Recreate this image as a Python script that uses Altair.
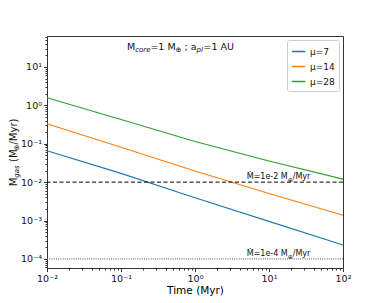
import altair as alt
import pandas as pd

times = [0.01, 0.1, 1, 10, 100]
mu7 = [0.0655, 0.0169, 0.00394, 0.00095, 0.00023]
mu14 = [0.33, 0.081, 0.0195, 0.00507, 0.00138]
mu28 = [1.58, 0.43, 0.114, 0.0354, 0.012]
series_names = ["μ=7", "μ=14", "μ=28"]
series_colors = ["#1f77b4", "#ff7f0e", "#2ca02c"]
ref_levels = [1e-2, 1e-4]
ref_main = ["Ṁ=1e-2 M", "Ṁ=1e-4 M"]
ref_sub = ["⊕", "⊕"]
ref_tail = ["/Myr", "/Myr"]

rows = []
for name, vals in zip(series_names, [mu7, mu14, mu28]):
    for t, v in zip(times, vals):
        rows.append({"t": t, "mdot": v, "series": name})
df = pd.DataFrame(rows)

x_ticks = []
for d in range(-2, 2):
    for m in range(1, 10):
        x_ticks.append(m * 10.0 ** d)
x_ticks.append(100.0)
y_ticks = []
for d in range(-5, 2):
    for m in range(1, 10):
        v = m * 10.0 ** d
        if 5.8e-5 <= v <= 64:
            y_ticks.append(v)

sup = "{'-5':'⁻⁵','-4':'⁻⁴','-3':'⁻³','-2':'⁻²','-1':'⁻¹','0':'⁰','1':'¹','2':'²'}"
major_test = "abs(log(datum.value)/LN10 - round(log(datum.value)/LN10)) < 1e-6"
lab_expr = major_test + " ? '10' + " + sup + "[toString(round(log(datum.value)/LN10))] : ''"

FONT = "DejaVu Sans"

xscale = alt.Scale(type="log", domain=[0.01, 100], nice=False)
yscale = alt.Scale(type="log", domain=[5.8e-5, 64], nice=False)

common_axis = dict(grid=False, labelFontSize=9.5, labelFont=FONT, titleFont=FONT,
                   titleFontWeight="normal", tickColor="#333", domainColor="#333",
                   labelColor="#111", labelPadding=2, labelFlush=False, labelOverlap=False,
                   labelExpr=lab_expr,
                   tickSize={"condition": {"test": major_test, "value": 3.5}, "value": 2})

lines = alt.Chart(df).mark_line(strokeWidth=1.1).encode(
    x=alt.X("t:Q", scale=xscale, axis=alt.Axis(
        title="Time (Myr)", values=x_ticks, titleFontSize=10.5, titlePadding=2, **common_axis)),
    y=alt.Y("mdot:Q", scale=yscale, axis=alt.Axis(title=None, values=y_ticks, **common_axis)),
    color=alt.Color("series:N", scale=alt.Scale(domain=series_names, range=series_colors),
                    legend=alt.Legend(title=None, orient="top-right", offset=4,
                                      symbolType="stroke", symbolStrokeWidth=1.5,
                                      symbolSize=180, labelFontSize=9, labelFont=FONT,
                                      fillColor="white", strokeColor="#ccc", padding=4,
                                      cornerRadius=2, rowPadding=2, labelColor="#111")),
    detail="series:N",
)

refdf = pd.DataFrame({"level": ref_levels, "main": ref_main, "sub": ref_sub, "tail": ref_tail,
                      "tx": [5.0, 5.0]})
rule1 = alt.Chart(refdf.iloc[[0]]).mark_rule(color="black", strokeDash=[4, 2.5], strokeWidth=1).encode(
    y=alt.Y("level:Q", scale=yscale))
rule2 = alt.Chart(refdf.iloc[[1]]).mark_rule(color="#777", strokeDash=[1, 1.2], strokeWidth=1.2).encode(
    y=alt.Y("level:Q", scale=yscale))
ref_enc = dict(x=alt.X("tx:Q", scale=xscale), y=alt.Y("level:Q", scale=yscale))
reftext1 = alt.Chart(refdf).mark_text(align="left", baseline="bottom", dy=-1, fontSize=8,
                                     font=FONT, color="#111").encode(text="main:N", **ref_enc)
reftext2 = alt.Chart(refdf).mark_text(align="left", baseline="bottom", dy=1, dx=41, fontSize=6,
                                     font=FONT, color="#111").encode(text="sub:N", **ref_enc)
reftext3 = alt.Chart(refdf).mark_text(align="left", baseline="bottom", dy=-1, dx=46, fontSize=8,
                                     font=FONT, color="#111").encode(text="tail:N", **ref_enc)

# in-plot title, with subscripts
title_txt = ["M", "core", "=1 M", "⊕", "; a", "pl", "=1 AU"]
title_x = [80, 88.2, 103.4, 128.6, 137.5, 149.6, 156.5]
title_sub = [False, True, False, True, False, True, False]
title_ital = [False, True, False, False, False, True, False]
title_layers = []
for t, px, sb, it in zip(title_txt, title_x, title_sub, title_ital):
    title_layers.append(
        alt.Chart(pd.DataFrame({"txt": [t]})).mark_text(
            align="left", baseline="middle", font=FONT, fontSize=7 if sb else 9.5,
            fontStyle="italic" if it else "normal", color="#111").encode(
            x=alt.value(px), y=alt.value(14 if sb else 11), text="txt:N"))

# rotated y-axis title, with subscripts
ytitle_txt = ["Ṁ", "gas", "(M", "⊕", "/Myr)"]
ytitle_y = [150.3, 141.7, 126.0, 114.5, 108.5]
ytitle_sub = [False, True, False, True, False]
ytitle_ital = [False, True, False, False, False]
ytitle_layers = []
for t, py, sb, it in zip(ytitle_txt, ytitle_y, ytitle_sub, ytitle_ital):
    ytitle_layers.append(
        alt.Chart(pd.DataFrame({"txt": [t]})).mark_text(
            align="left", baseline="middle", angle=270, font=FONT, fontSize=7 if sb else 10,
            fontStyle="italic" if it else "normal", color="#111").encode(
            x=alt.value(-30.5 if sb else -33), y=alt.value(py), text="txt:N"))

chart = alt.layer(lines, rule1, rule2, reftext1, reftext2, reftext3,
                  *title_layers, *ytitle_layers).properties(
    width=296, height=232,
    autosize=alt.AutoSizeParams(type="none"),
    padding={"left": 39, "top": 28, "right": 20, "bottom": 35},
    background="white",
).configure_view(stroke="#333", strokeWidth=1)

chart.save("out.html", embed_options={"renderer": "svg", "actions": False})
